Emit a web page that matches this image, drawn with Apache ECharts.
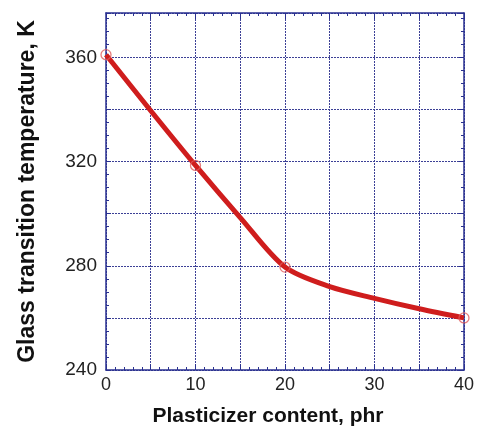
<!DOCTYPE html>
<html>
<head>
<meta charset="utf-8">
<script src="https://cdn.jsdelivr.net/npm/echarts@6/dist/echarts.min.js"></script>
<style>html,body{margin:0;padding:0;background:#fff;}#c{width:477px;height:434px;}</style>
</head>
<body>
<div id="c"></div>
<script>
// Curve
const curveX = [0, 5, 10, 15, 20, 25, 30, 35, 40];
const curveY = [361, 339.5, 318.5, 298.5, 279.5, 272, 267.5, 263.5, 260];
// Measured points (open circles)
const pointX = [0, 10, 20, 40];
const pointY = [361, 318.5, 279.5, 260];
const xTickLabels = [0, 10, 20, 30, 40];
const yTickLabels = [240, 280, 320, 360];

const axisColor = '#2a3190';
const gridColor = '#3c4096';
const red = '#cf1d1d';

const chart = echarts.init(document.getElementById('c'));
const xBase = {
  type: 'value', min: 0, max: 40, interval: 5,
  axisLine: { show: true, onZero: false, lineStyle: { color: axisColor, width: 1.5 } },
  axisTick: { show: true, inside: true, length: 6, lineStyle: { color: axisColor } },
  minorTick: { show: true, splitNumber: 5, length: 3, lineStyle: { color: axisColor } },
};
const yBase = {
  type: 'value', min: 240, max: 377, interval: 20,
  axisLine: { show: true, onZero: false, lineStyle: { color: axisColor, width: 1.5 } },
  axisTick: { show: true, inside: true, length: 5, lineStyle: { color: axisColor } },
  minorTick: { show: true, splitNumber: 4, length: 3, lineStyle: { color: axisColor } },
};
chart.setOption({
  animation: false,
  grid: { left: 106, right: 9, top: 13, bottom: 64, containLabel: false },
  xAxis: [
    Object.assign({}, xBase, {
      position: 'bottom',
      name: 'Plasticizer content, phr', nameLocation: 'middle', nameGap: 36,
      nameTextStyle: { fontFamily: 'Liberation Sans', fontWeight: 'bold', fontSize: 21, color: '#111', padding: [0, 34, 0, 0] },
      axisLabel: {
        show: true, margin: 6, fontFamily: 'Liberation Sans', fontSize: 18, color: '#222',
        formatter: v => xTickLabels.indexOf(v) >= 0 ? String(v) : ''
      },
      splitLine: { show: true, lineStyle: { color: gridColor, type: [2, 1], width: 1 } }
    }),
    Object.assign({}, xBase, {
      position: 'top', axisLabel: { show: false }, splitLine: { show: false }
    })
  ],
  yAxis: [
    Object.assign({}, yBase, {
      position: 'left',
      name: 'Glass transition temperature, K', nameLocation: 'middle', nameGap: 67,
      nameTextStyle: { fontFamily: 'Liberation Sans', fontWeight: 'bold', fontSize: 23, color: '#111' },
      axisLabel: {
        show: true, margin: 9, fontFamily: 'Liberation Sans', fontSize: 19, color: '#222',
        formatter: v => yTickLabels.indexOf(v) >= 0 ? String(v) : ''
      },
      splitLine: { show: true, lineStyle: { color: gridColor, type: [2, 1], width: 1 } }
    }),
    Object.assign({}, yBase, {
      position: 'right', axisLabel: { show: false }, splitLine: { show: false }
    })
  ],
  series: [
    {
      type: 'line', smooth: 0.3, showSymbol: false,
      data: curveX.map((x, i) => [x, curveY[i]]),
      lineStyle: { color: red, width: 5 }, z: 3
    },
    {
      type: 'scatter', symbol: 'circle', symbolSize: 10,
      data: pointX.map((x, i) => [x, pointY[i]]),
      itemStyle: { color: 'rgba(0,0,0,0)', borderColor: '#e05a5a', borderWidth: 1.3 }, z: 4
    }
  ]
});
</script>
</body>
</html>
